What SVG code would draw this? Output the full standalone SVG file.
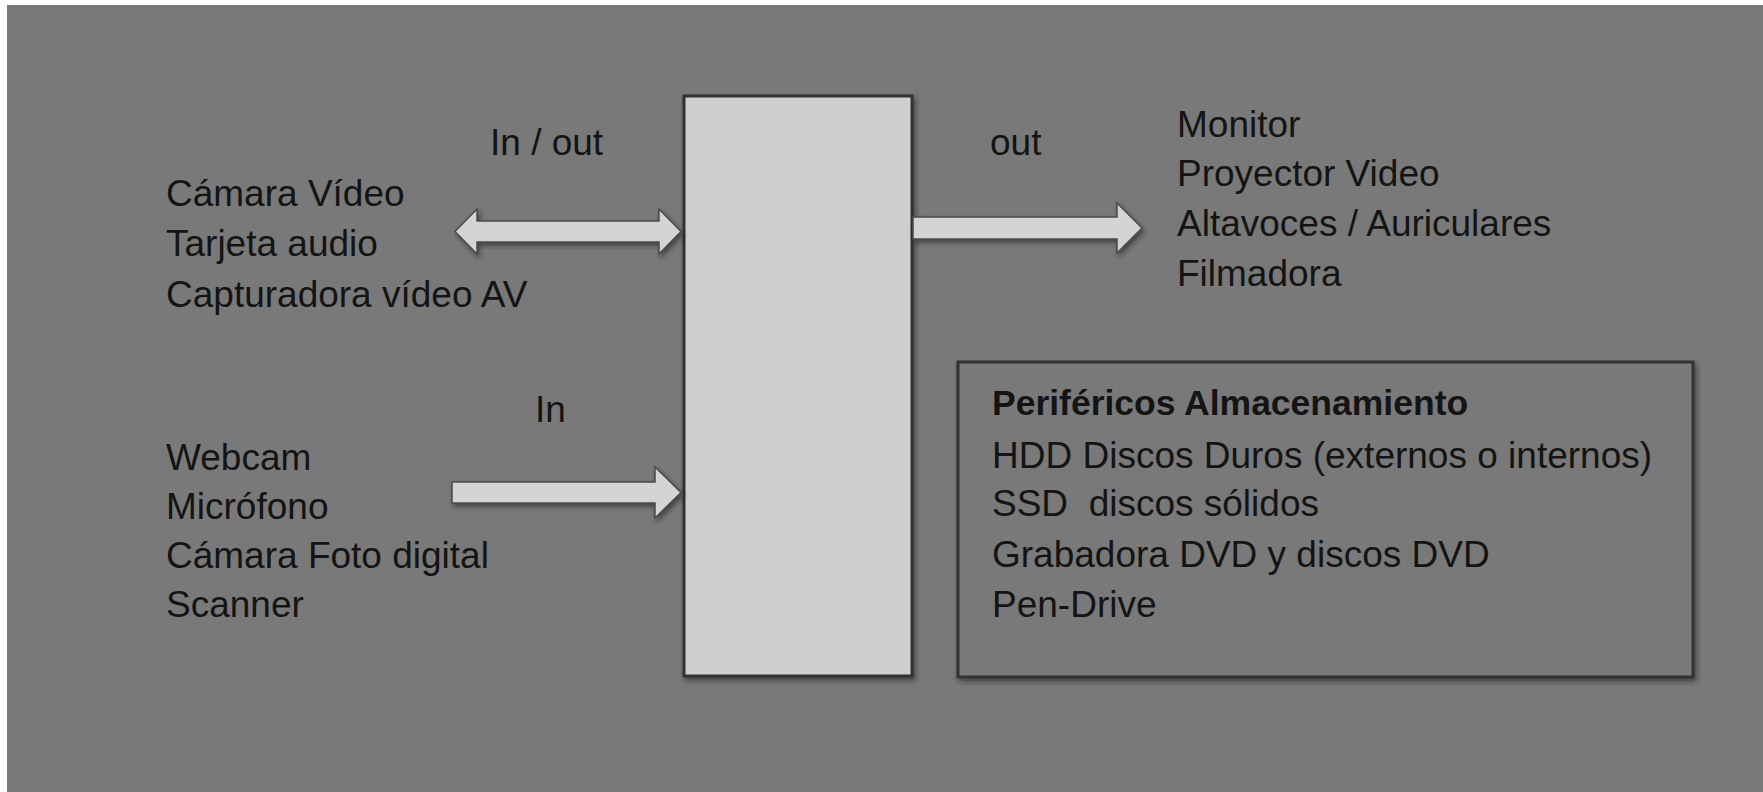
<svg xmlns="http://www.w3.org/2000/svg" width="1763" height="792" viewBox="0 0 1763 792">
  <style>
    .t { font-family: "Liberation Sans", Arial, sans-serif; font-size: 37px; fill: #141414; }
    .b { font-weight: bold; font-size: 35.5px; }
    .arrow { fill: #d4d4d4; stroke: #4a4a4a; stroke-width: 1.5; filter: url(#shadow); }
    .box { stroke: #333333; stroke-width: 3; filter: url(#shadow); }
  </style>
  <defs>
    <filter id="shadow" x="-10%" y="-30%" width="120%" height="160%">
      <feDropShadow dx="2" dy="3" stdDeviation="2.5" flood-color="#1e1e1e" flood-opacity="0.6"/>
    </filter>
  </defs>
  <rect x="0" y="0" width="1763" height="792" fill="#ffffff"/>
  <rect x="7" y="5" width="1756" height="787" fill="#797979"/>

  <g id="center-node">
    <rect class="box" x="684" y="96" width="228" height="580" fill="#cfcfcf"/>
  </g>

  <g id="storage-node">
    <rect class="box" x="958" y="362" width="735" height="315" fill="#797979"/>
    <text class="t b" x="992" y="415">Periféricos Almacenamiento</text>
    <text class="t" x="992" y="468">HDD Discos Duros (externos o internos)</text>
    <text class="t" x="992" y="516" xml:space="preserve">SSD  discos sólidos</text>
    <text class="t" x="992" y="567">Grabadora DVD y discos DVD</text>
    <text class="t" x="992" y="617">Pen-Drive</text>
  </g>

  <g id="inout-devices">
    <text class="t" x="166" y="206">Cámara Vídeo</text>
    <text class="t" x="166" y="256">Tarjeta audio</text>
    <text class="t" x="166" y="307">Capturadora vídeo AV</text>
  </g>

  <g id="in-devices">
    <text class="t" x="166" y="470">Webcam</text>
    <text class="t" x="166" y="519">Micrófono</text>
    <text class="t" x="166" y="568">Cámara Foto digital</text>
    <text class="t" x="166" y="617">Scanner</text>
  </g>

  <g id="out-devices">
    <text class="t" x="1177" y="137">Monitor</text>
    <text class="t" x="1177" y="186">Proyector Video</text>
    <text class="t" x="1177" y="236">Altavoces / Auriculares</text>
    <text class="t" x="1177" y="286">Filmadora</text>
  </g>

  <g id="connectors">
    <polygon class="arrow" points="455,231.5 477,209 477,221 659,221 659,209 681,231.5 659,254 659,242 477,242 477,254"/>
    <text class="t" x="490" y="155">In / out</text>
    <polygon class="arrow" points="452,482 655,482 655,467 681,492.5 655,518 655,503 452,503"/>
    <text class="t" x="535" y="422">In</text>
    <polygon class="arrow" points="913,217 1117,217 1117,203 1142,228 1117,253 1117,239 913,239"/>
    <text class="t" x="990" y="155">out</text>
  </g>
</svg>
